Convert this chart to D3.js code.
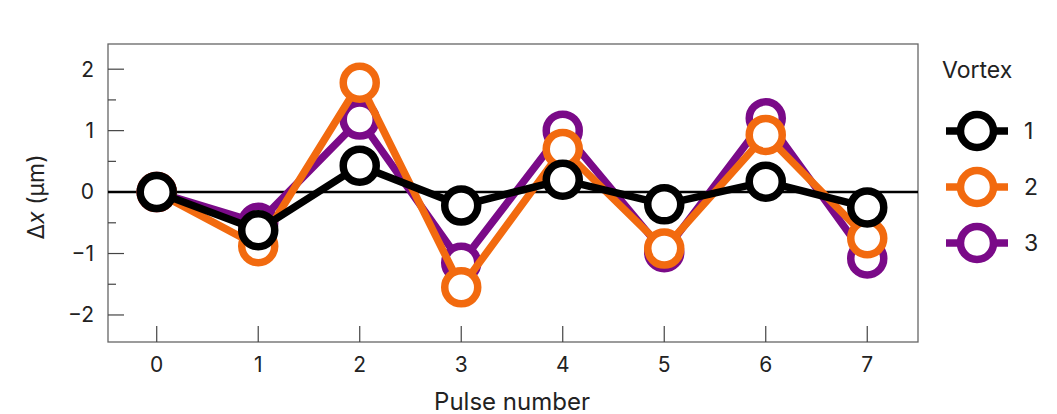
<!DOCTYPE html>
<html><head><meta charset="utf-8">
<script src="https://cdn.jsdelivr.net/npm/d3@7"></script>
<style>body{margin:0;background:#fff}text{font-family:"Inter","Roboto",sans-serif;fill:#222}</style>
</head><body><svg id="c" width="1057" height="414"></svg>
<script>
const pulses = [0, 1, 2, 3, 4, 5, 6, 7];
const vortex1 = [0, -0.62, 0.43, -0.22, 0.2, -0.2, 0.17, -0.25];
const vortex2 = [0, -0.88, 1.78, -1.55, 0.7, -0.92, 0.93, -0.75];
const vortex3 = [0, -0.5, 1.18, -1.15, 1.0, -0.98, 1.2, -1.08];
const series = [
  { name: "3", values: vortex3, color: "#7a0a88" },
  { name: "2", values: vortex2, color: "#f26a0f" },
  { name: "1", values: vortex1, color: "#000000" },
];

const svg = d3.select("#c");
const L = 108, R = 918, T = 44, B = 342;
const x = d3.scaleLinear().domain([-0.48, 7.5]).range([L, R]);
const y = d3.scaleLinear().domain([-2.44, 2.41]).range([B, T]);

// frame
svg.append("rect").attr("x", L).attr("y", T).attr("width", R - L).attr("height", B - T)
  .attr("fill", "none").attr("stroke", "#666").attr("stroke-width", 1.3);

// y ticks (inside)
const gy = svg.append("g");
d3.range(-2, 2.01, 0.5).forEach((v) => {
  const major = Math.abs(v % 1) < 1e-9;
  gy.append("line").attr("x1", L).attr("x2", L + (major ? 16 : 8))
    .attr("y1", y(v)).attr("y2", y(v)).attr("stroke", "#444").attr("stroke-width", 1.2);
  if (major) gy.append("text").attr("x", L - 14).attr("y", y(v)).attr("dy", "0.35em")
    .attr("text-anchor", "end").attr("font-size", 21).text(v < 0 ? "\u2212" + (-v) : v);
});
// x ticks (inside)
pulses.forEach((p) => {
  svg.append("line").attr("x1", x(p)).attr("x2", x(p)).attr("y1", B).attr("y2", B - 16)
    .attr("stroke", "#444").attr("stroke-width", 1.2);
  svg.append("text").attr("x", x(p)).attr("y", B + 30).attr("text-anchor", "middle")
    .attr("font-size", 21).text(p);
});

svg.append("text").attr("x", 512).attr("y", 410).attr("text-anchor", "middle")
  .attr("font-size", 24).text("Pulse number");
svg.append("text").attr("transform", `translate(44,${(T + B) / 2 + 4}) rotate(-90)`)
  .attr("text-anchor", "middle").attr("font-size", 23)
  .html('Δ<tspan font-style="italic">x</tspan> (μm)');

// zero line
svg.append("line").attr("x1", L).attr("x2", R).attr("y1", y(0)).attr("y2", y(0))
  .attr("stroke", "#000").attr("stroke-width", 2.5);

const line = d3.line().x((d, i) => x(pulses[i])).y((d) => y(d));
series.forEach((s) => {
  const g = svg.append("g");
  g.append("path").attr("d", line(s.values)).attr("fill", "none")
    .attr("stroke", s.color).attr("stroke-width", 7.5).attr("stroke-linejoin", "round");
  g.selectAll("circle").data(s.values).join("circle")
    .attr("cx", (d, i) => x(pulses[i])).attr("cy", (d) => y(d)).attr("r", 16.5)
    .attr("fill", "#fff").attr("stroke", s.color).attr("stroke-width", 7.5);
});

// legend
svg.append("text").attr("x", 942).attr("y", 78).attr("font-size", 23).text("Vortex");
["1", "2", "3"].forEach((n, i) => {
  const s = series.find((d) => d.name === n);
  const cy = 131 + i * 56;
  svg.append("line").attr("x1", 946).attr("x2", 1008).attr("y1", cy).attr("y2", cy)
    .attr("stroke", s.color).attr("stroke-width", 7.5);
  svg.append("circle").attr("cx", 977).attr("cy", cy).attr("r", 16.5).attr("fill", "#fff")
    .attr("stroke", s.color).attr("stroke-width", 7.5);
  svg.append("text").attr("x", 1024).attr("y", cy).attr("dy", "0.35em")
    .attr("font-size", 23).text(n);
});
</script></body></html>
